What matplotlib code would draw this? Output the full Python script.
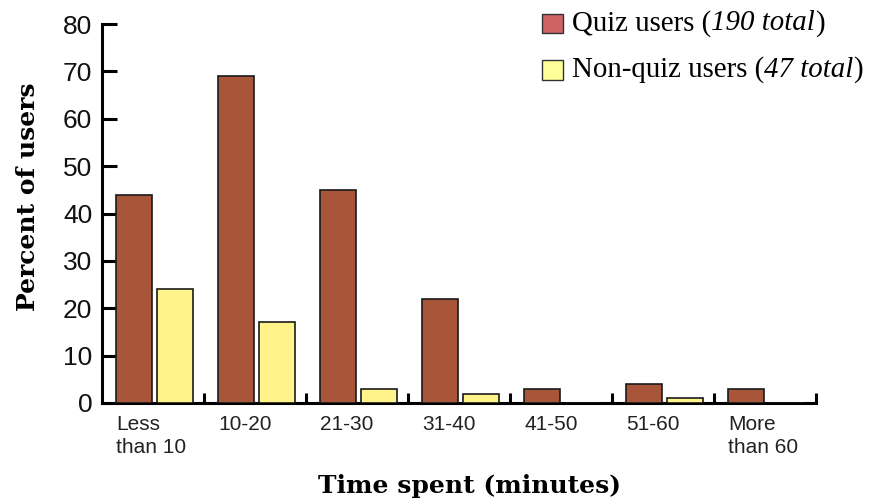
import matplotlib
matplotlib.use("Agg")
import matplotlib.pyplot as plt
from matplotlib.offsetbox import TextArea, HPacker, VPacker, DrawingArea, AnchoredOffsetbox
from matplotlib.patches import Rectangle
import numpy as np

categories = ["Less\nthan 10", "10-20", "21-30", "31-40", "41-50", "51-60", "More\nthan 60"]
quiz = [44, 69, 45, 22, 3, 4, 3]
nonquiz = [24, 17, 3, 2, 0, 1, 0]
yticks = [0, 10, 20, 30, 40, 50, 60, 70, 80]

quiz_color = "#A9553A"
nonquiz_color = "#FFF38A"
quiz_leg = "#CD6363"
nonquiz_leg = "#FFFF99"

fig = plt.figure(figsize=(8.82, 5.0), dpi=100)
ax = fig.add_axes([102/882, 97/500, 714/882, 379/500])

x = np.arange(len(categories))
w = 0.354
ax.bar(x + 0.138, quiz, width=w, align="edge", color=quiz_color, edgecolor="#1a1a1a", linewidth=1.2, zorder=3)
ax.bar(x + 0.54, nonquiz, width=w, align="edge", color=nonquiz_color, edgecolor="#1a1a1a", linewidth=1.2, zorder=3)

ax.set_xlim(0, len(categories))
ax.set_ylim(0, 80)
for s in ["top", "right"]:
    ax.spines[s].set_visible(False)
for s in ["left", "bottom"]:
    ax.spines[s].set_linewidth(2.2)
    ax.spines[s].set_color("black")

ax.set_yticks(yticks)
ax.set_yticklabels([str(v) for v in yticks], fontsize=19, family="Liberation Sans", color="#111111")
ax.tick_params(axis="y", direction="in", length=11, width=2.2, pad=7)

ax.set_xticks(np.arange(1, len(categories) + 1))
ax.set_xticklabels([])
ax.tick_params(axis="x", direction="in", length=7.5, width=2.2)

for i, c in enumerate(categories):
    ax.text(i + 0.138, -2.6, c, ha="left", va="top", fontsize=15,
            family="Liberation Sans", color="#222222", linespacing=1.25)

fig.text(28/882, 1 - 197/500, "Percent of users", rotation=90, ha="center", va="center",
         fontsize=18, fontweight="bold", family="DejaVu Serif")
fig.text(470/882, 1 - 486/500, "Time spent (minutes)", ha="center", va="center",
         fontsize=18, fontweight="bold", family="DejaVu Serif")

FS = 20.8
def tp(style="normal"):
    return dict(fontsize=FS, family="Liberation Serif", style=style, color="black")

def legend_row(color, pre, ital):
    da = DrawingArea(15, 14, 0, 0)
    da.add_artist(Rectangle((0, 0), 15, 14, facecolor=color, edgecolor="#333333", linewidth=1.0))
    spacer = DrawingArea(6.5, 1, 0, 0)
    return HPacker(children=[da, spacer,
                             TextArea(pre, textprops=tp()),
                             TextArea(ital, textprops=tp("italic")),
                             TextArea(")", textprops=tp())],
                   align="center", pad=0, sep=0)

row1 = legend_row(quiz_leg, "Quiz users (", "190 total")
row2 = legend_row(nonquiz_leg, "Non-quiz users (", "47 total")
vbox = VPacker(children=[row1, row2], align="left", pad=0, sep=14)
anch = AnchoredOffsetbox(loc="upper left", child=vbox, frameon=False, pad=0,
                         bbox_to_anchor=(542/882, 1 - 10/500), bbox_transform=fig.transFigure, borderpad=0)
fig.add_artist(anch)

fig.savefig("out.png", dpi=100)
